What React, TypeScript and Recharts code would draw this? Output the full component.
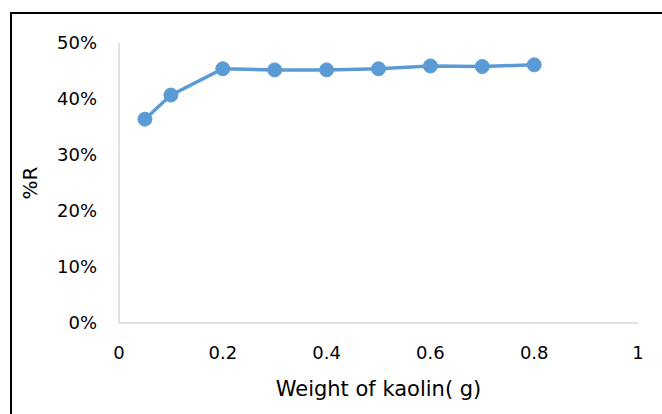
import React from "react";
import { LineChart, Line, XAxis, YAxis, Label } from "recharts";

const weights = [0.05, 0.1, 0.2, 0.3, 0.4, 0.5, 0.6, 0.7, 0.8];
const removal = [0.364, 0.407, 0.454, 0.452, 0.452, 0.454, 0.459, 0.458, 0.461];
const xTicks = [0, 0.2, 0.4, 0.6, 0.8, 1];
const yTicks = [0, 0.1, 0.2, 0.3, 0.4, 0.5];

const data = weights.map((w, i) => ({ w, r: removal[i] }));

const FONT = "'DejaVu Sans', sans-serif";
const AXIS = "#d9d9d9";
const BLUE = "#5b9bd5";

export default function App() {
  return (
    <div style={{ position: "absolute", left: 0, top: 0, width: 662, height: 414, overflow: "hidden", background: "#fff" }}>
      <div
        style={{
          position: "absolute",
          left: 10,
          top: 12,
          width: 700,
          height: 500,
          borderTop: "2px solid #000",
          borderLeft: "2px solid #000",
          boxSizing: "border-box",
        }}
      />
      <div style={{ position: "absolute", left: 0, top: 0 }}>
        <LineChart
          width={662}
          height={414}
          data={data}
          margin={{ top: 43, right: 24, bottom: 0, left: 0 }}
        >
          <XAxis
            dataKey="w"
            type="number"
            domain={[0, 1]}
            ticks={xTicks}
            tickFormatter={(v: number) => String(v)}
            axisLine={{ stroke: AXIS, strokeWidth: 1.5 }}
            tickLine={false}
            tickSize={0}
            tickMargin={23}
            tick={{ fill: "#000", fontSize: 18, fontFamily: FONT }}
            height={91}
          >
            <Label
              value="Weight of kaolin( g)"
              position="insideTop"
              offset={58}
              style={{ fill: "#000", fontSize: 21, fontFamily: FONT }}
            />
          </XAxis>
          <YAxis
            type="number"
            domain={[0, 0.5]}
            ticks={yTicks}
            tickFormatter={(v: number) => `${Math.round(v * 100)}%`}
            axisLine={{ stroke: AXIS, strokeWidth: 1.5 }}
            tickLine={false}
            tickSize={0}
            tickMargin={22}
            tick={{ fill: "#000", fontSize: 18, fontFamily: FONT }}
            width={119}
          >
            <Label
              value="%R"
              angle={-90}
              position="insideLeft"
              offset={30}
              style={{ fill: "#000", fontSize: 20, fontFamily: FONT, textAnchor: "middle" }}
            />
          </YAxis>
          <Line
            dataKey="r"
            stroke={BLUE}
            strokeWidth={3.5}
            dot={{ r: 7, fill: BLUE, stroke: BLUE, strokeWidth: 1 }}
            isAnimationActive={false}
          />
        </LineChart>
      </div>
    </div>
  );
}
